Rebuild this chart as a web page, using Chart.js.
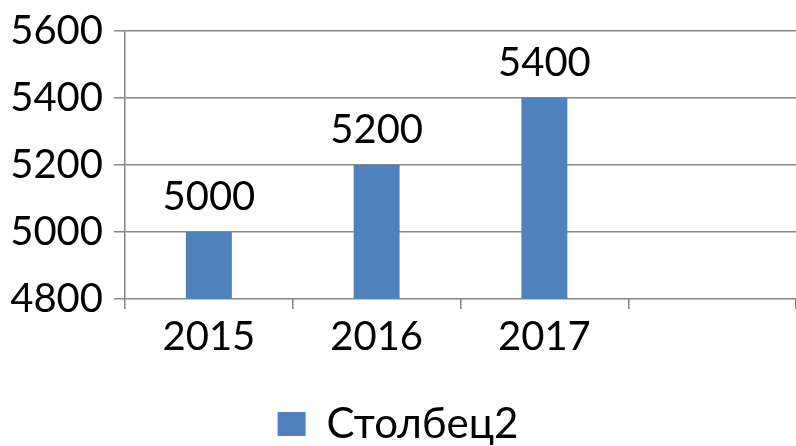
<!DOCTYPE html>
<html>
<head>
<meta charset="utf-8">
<script src="https://cdn.jsdelivr.net/npm/chart.js@4"></script>
<style>
  html, body { margin: 0; padding: 0; background: #fff; overflow: hidden; }
  canvas { display: block; }
</style>
</head>
<body>
<canvas id="grafica" width="796" height="446"></canvas>
<script>
let chartStolbec = null;
const datos = [
  { anio: '2015', valor: 5000 },
  { anio: '2016', valor: 5200 },
  { anio: '2017', valor: 5400 },
  { anio: '', valor: null }
];

// etiquetas encima de cada barra
const etiquetasBarras = {
  id: 'etiquetasBarras',
  afterDatasetsDraw(chart) {
    const ctx = chart.ctx;
    const meta = chart.getDatasetMeta(0);
    ctx.save();
    ctx.font = '40px Lato';
    ctx.fillStyle = '#000';
    ctx.textAlign = 'center';
    ctx.textBaseline = 'alphabetic';
    meta.data.forEach((bar, i) => {
      const v = chart.data.datasets[0].data[i];
      if (v == null) return;
      ctx.fillText(String(v), bar.x, bar.y - 22);
    });
    ctx.restore();
  }
};

function inicializarChart() {
  const ctx = document.getElementById('grafica').getContext('2d');
  const gris = '#868686';

  chartStolbec = new Chart(ctx, {
    type: 'bar',
    data: {
      labels: datos.map(d => d.anio),
      datasets: [{
        label: 'Столбец2',
        data: datos.map(d => d.valor),
        backgroundColor: '#4F81BD',
        borderWidth: 0,
        categoryPercentage: 1,
        barPercentage: 0.274
      }]
    },
    options: {
      responsive: false,
      animation: false,
      layout: { padding: { top: 31, left: 0, right: 0, bottom: -9 } },
      scales: {
        x: {
          offset: true,
          grid: {
            display: true,
            offset: true,
            drawOnChartArea: false,
            drawTicks: true,
            tickLength: 10,
            color: gris,
            lineWidth: 1.5
          },
          border: { display: false },
          ticks: {
            color: '#000',
            font: { family: 'Lato', size: 40 },
            padding: 4,
            maxRotation: 0
          },
          afterFit: (scale) => { scale.height = 102; }
        },
        y: {
          min: 4800,
          max: 5600,
          ticks: {
            stepSize: 200,
            color: '#000',
            font: { family: 'Lato', size: 40, lineHeight: 1 },
            padding: 11,
            callback: (v) => String(v)
          },
          grid: {
            color: gris,
            lineWidth: 1.5,
            tickLength: 11
          },
          border: { display: true, color: gris, width: 1.5 },
          afterFit: (scale) => { scale.width = 125; }
        }
      },
      plugins: {
        legend: {
          position: 'bottom',
          labels: {
            color: '#000',
            font: { family: 'Lato', size: 42 },
            boxWidth: 28,
            boxHeight: 24,
            padding: 2
          }
        },
        tooltip: { enabled: false }
      }
    },
    plugins: [etiquetasBarras]
  });
}

document.fonts.load('40px Lato').then(inicializarChart, inicializarChart);
</script>
</body>
</html>
